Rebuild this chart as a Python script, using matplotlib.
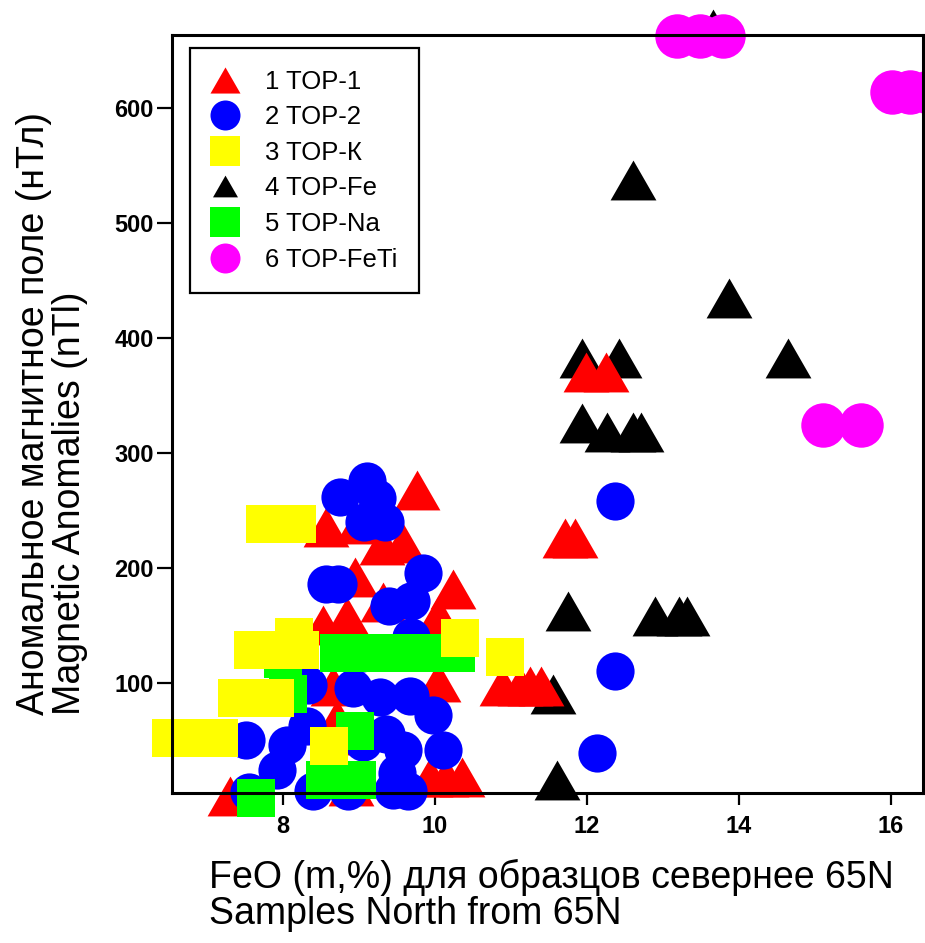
import matplotlib
matplotlib.use('Agg')
import matplotlib.pyplot as plt
from matplotlib import font_manager
from matplotlib.lines import Line2D

# --- данные (FeO, аномальное поле) ---
top1_x = [9.76, 8.56, 8.99, 9.58, 9.3, 8.95, 10.24, 9.31, 8.52, 8.84, 10.04,
          10.04, 8.66, 8.71, 8.85, 10.88, 11.12, 11.25, 11.4, 9.93, 10.15,
          10.35, 7.3, 8.9, 11.99, 12.25, 11.71, 11.84]
top1_y = [268, 236, 238, 222, 220, 192, 182, 170, 150, 157, 158,
          101, 97, 69, 55, 97, 97, 97, 97, 18, 18,
          18, 2, 10, 370, 370, 226, 226]

top2_x = [12.37, 12.37, 12.13, 9.1, 8.75, 9.24, 9.18, 9.07, 9.34, 8.57, 8.72,
          9.84, 9.4, 9.68, 9.69, 9.04, 8.33, 8.92, 9.28, 9.67, 9.97, 8.31,
          8.05, 7.51, 9.05, 9.36, 9.58, 10.1, 7.92, 7.55, 9.5, 9.45, 8.4,
          8.85, 9.65]
top2_y = [258, 110, 39, 276, 262, 261, 242, 240, 240, 186, 186,
          196, 167, 171, 140, 126, 98, 96, 88, 89, 72, 63,
          46, 50, 49, 56, 42, 42, 24, 5, 22, 7, 6,
          6, 6]

topk_x = [7.76, 8.18, 7.61, 8.0, 8.22, 8.15, 10.33, 10.92, 7.39, 7.65, 7.89,
          6.53, 6.85, 7.16, 8.6]
topk_y = [238, 238, 129, 129, 129, 140, 139, 123, 87, 87, 87,
          52, 52, 52, 45]

topfe_x = [13.66, 12.6, 13.87, 11.93, 12.42, 14.64, 11.93, 12.26, 12.6, 12.71,
           11.75, 12.89, 13.21, 13.32, 11.55, 11.6]
topfe_y = [669, 537, 435, 383, 383, 383, 326, 318, 318, 318,
           163, 158, 158, 158, 90, 16]

topna_x = [8.0, 8.06, 8.74, 9.1, 9.5, 9.9, 10.27, 8.55, 8.98, 7.65, 8.95]
topna_y = [121, 90, 126, 126, 126, 126, 126, 16, 16, 0, 58]

topfeti_x = [13.18, 13.49, 13.79, 16.01, 16.25, 16.5, 15.1, 15.6]
topfeti_y = [663, 663, 663, 614, 614, 614, 324, 324]

labels = ['TOP-1', 'TOP-2', 'TOP-К', 'TOP-Fe', 'TOP-Na', 'TOP-FeTi']

names = {f.name for f in font_manager.fontManager.ttflist}
narrow = 'Liberation Sans Narrow' if 'Liberation Sans Narrow' in names else 'Liberation Sans'
label_size = 30 if narrow == 'Liberation Sans Narrow' else 27
plt.rcParams['font.family'] = ['Liberation Sans', 'DejaVu Sans']

# треугольник шире, чем выше
tri = [(0, 0.87), (-1, -0.87), (1, -0.87), (0, 0.87)]

fig = plt.figure(figsize=(9.25, 9.43), dpi=100)
ax = fig.add_axes([172 / 925, 150 / 943, 751 / 925, 758 / 943])

kw = dict(linestyle='none', markeredgewidth=0, clip_on=False)
ax.plot(topfe_x, topfe_y, marker=tri, markersize=33, color='black', **kw)
ax.plot(topfeti_x, topfeti_y, marker='o', markersize=32, color='#ff00ff', **kw)
ax.plot(top1_x, top1_y, marker=tri, markersize=33, color='red', **kw)
ax.plot(top2_x, top2_y, marker='o', markersize=27.5, color='blue', **kw)
ax.plot(topna_x, topna_y, marker='s', markersize=28, color='#00ff00', **kw)
ax.plot(topk_x, topk_y, marker='s', markersize=28, color='yellow', **kw)

ax.set_xlim(6.54, 16.42)
ax.set_ylim(4.3, 663.5)
ax.set_xticks([8, 10, 12, 14, 16])
ax.set_yticks([100, 200, 300, 400, 500, 600])
for s in ax.spines.values():
    s.set_linewidth(2.2)
ax.tick_params(axis='y', direction='out', length=11, width=1.6, pad=2)
ax.tick_params(axis='x', direction='out', length=8.5, width=1.6, pad=7)
for t in ax.get_xticklabels() + ax.get_yticklabels():
    t.set_fontweight('bold')
    t.set_fontsize(17)

# легенда
handles = [
    Line2D([], [], marker=tri, markersize=21.6, color='red', linestyle='none', markeredgewidth=0),
    Line2D([], [], marker='o', markersize=21.6, color='blue', linestyle='none', markeredgewidth=0),
    Line2D([], [], marker='s', markersize=21.6, color='yellow', linestyle='none', markeredgewidth=0),
    Line2D([], [], marker=tri, markersize=18, color='black', linestyle='none', markeredgewidth=0),
    Line2D([], [], marker='s', markersize=21.6, color='#00ff00', linestyle='none', markeredgewidth=0),
    Line2D([], [], marker='o', markersize=21.6, color='#ff00ff', linestyle='none', markeredgewidth=0),
]
leg_labels = ['%d %s' % (i + 1, l) for i, l in enumerate(labels)]
leg = ax.legend(handles, leg_labels, loc='upper left', bbox_to_anchor=(0.024, 0.983),
                borderaxespad=0, fontsize=18.5, frameon=True, fancybox=False,
                edgecolor='black', framealpha=1, borderpad=0.85, handlelength=1.0,
                handletextpad=1.05, labelspacing=0.45)
leg.get_frame().set_linewidth(1.6)

# подписи осей
fig.text(209 / 925, 1 - 895 / 943,
         'FeO (m,%) для образцов севернее 65N\nSamples North from 65N',
         family=[narrow, 'DejaVu Sans'], fontsize=label_size, ha='left', va='center',
         multialignment='left', linespacing=1.0)
fig.text(52 / 925, 1 - 715 / 943,
         'Аномальное магнитное поле (нТл)\nMagnetic Anomalies (nTl)',
         family=[narrow, 'DejaVu Sans'], fontsize=label_size, rotation=90, ha='center',
         va='bottom', multialignment='left', linespacing=1.0)

fig.savefig('out.png', dpi=100)
